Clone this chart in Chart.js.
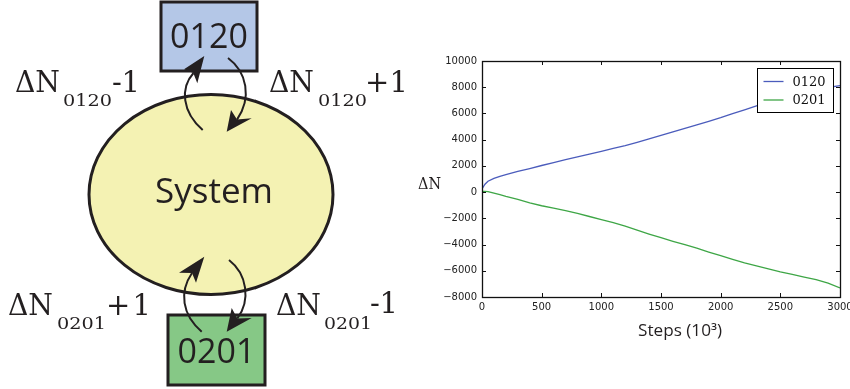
<!DOCTYPE html>
<html>
<head>
<meta charset="utf-8">
<script src="https://cdn.jsdelivr.net/npm/chart.js@4.4.1/dist/chart.umd.min.js"></script>
<style>
html, body { margin: 0; padding: 0; background: #fff; width: 850px; height: 389px; overflow: hidden; }
#plot { position: absolute; left: 420px; top: 50px; width: 440px; height: 290px; }
#diagram { position: absolute; left: 0; top: 0; pointer-events: none; }
.serif { font-family: "DejaVu Serif", serif; fill: #231f20; }
.sans { font-family: "Open Sans", sans-serif; fill: #231f20; }
</style>
</head>
<body>
<div id="plot"><canvas id="chartcanvas"></canvas></div>

<svg id="diagram" width="850" height="389">
	<!-- boxes and system -->
	<rect x="161" y="2" width="96" height="69" fill="#b4c7e7" stroke="#231f20" stroke-width="3"/>
	<text class="sans" x="209" y="48" font-size="34" text-anchor="middle">0120</text>
	<ellipse cx="211" cy="194.5" rx="122" ry="100" fill="#f4f2b3" stroke="#231f20" stroke-width="3"/>
	<text class="sans" x="214" y="203" font-size="35" text-anchor="middle">System</text>
	<rect x="168" y="315" width="97" height="70" fill="#86c886" stroke="#231f20" stroke-width="3"/>
	<text class="sans" x="216.5" y="363" font-size="34" text-anchor="middle">0201</text>

	<!-- exchange arrows -->
	<g fill="none" stroke="#231f20" stroke-width="2">
		<path d="M202.7,130 C182,112 180,88 193.5,73"/>
		<path d="M228,58 C247,72 252,98 237,119.6"/>
		<path d="M201.7,331.7 C182,315 179,292 192,273"/>
		<path d="M229,260 C247,274 251,300 237.3,318.5"/>
	</g>
	<g fill="#231f20">
		<polygon points="204.3,56 184,69.3 193.3,73 197.3,83.3"/>
		<polygon points="226.7,131.7 231,110 237,119.6 251.7,118.3"/>
		<polygon points="204.3,256.7 179,272.7 192,273 196,282.7"/>
		<polygon points="226.7,331.7 231.7,308 237.3,318.5 251.7,318"/>
	</g>

	<!-- labels -->
	<text class="serif" x="15" y="92" font-size="29" textLength="45" lengthAdjust="spacingAndGlyphs">ΔN</text>
	<text class="serif" x="63" y="106" font-size="16" textLength="49" lengthAdjust="spacingAndGlyphs">0120</text>
	<text class="serif" x="112" y="92" font-size="29" textLength="28">-1</text>

	<text class="serif" x="269" y="92" font-size="29" textLength="45" lengthAdjust="spacingAndGlyphs">ΔN</text>
	<text class="serif" x="318" y="106" font-size="16" textLength="49" lengthAdjust="spacingAndGlyphs">0120</text>
	<text class="serif" x="365" y="92" font-size="29" textLength="43">+1</text>

	<text class="serif" x="8" y="315" font-size="29" textLength="45" lengthAdjust="spacingAndGlyphs">ΔN</text>
	<text class="serif" x="57" y="329" font-size="16" textLength="49" lengthAdjust="spacingAndGlyphs">0201</text>
	<text class="serif" x="106" y="315" font-size="29" textLength="45">+1</text>

	<text class="serif" x="276" y="315" font-size="29" textLength="45" lengthAdjust="spacingAndGlyphs">ΔN</text>
	<text class="serif" x="324" y="329" font-size="16" textLength="48" lengthAdjust="spacingAndGlyphs">0201</text>
	<text class="serif" x="370" y="313" font-size="29" textLength="28">-1</text>

	<!-- plot axis labels -->
	<text class="serif" x="418" y="189" font-size="16" textLength="23" lengthAdjust="spacingAndGlyphs">ΔN</text>
	<text class="sans" x="638" y="336" font-size="16" textLength="84" lengthAdjust="spacingAndGlyphs">Steps (10³)</text>
</svg>

<script>
"use strict";

// steps in units of 10^3
var steps = [0, 25, 50, 100, 150, 200, 300, 400, 500, 600, 700, 800, 900, 1000,
	1100, 1200, 1300, 1400, 1500, 1600, 1700, 1800, 1900, 2000,
	2100, 2200, 2300, 2400, 2500, 2600, 2700, 2800, 2900, 3000];

// ΔN for each species
var n0120 = [250, 600, 830, 1050, 1200, 1330, 1580, 1800, 2030, 2250, 2470, 2690, 2900, 3110,
	3330, 3550, 3800, 4060, 4330, 4600, 4870, 5130, 5400, 5680,
	5990, 6280, 6570, 6850, 7100, 7350, 7580, 7800, 7980, 8130];
var n0201 = [60, 60, 30, -80, -200, -330, -560, -820, -1040, -1230, -1420, -1630, -1860, -2100,
	-2330, -2600, -2900, -3200, -3480, -3750, -4000, -4280, -4570, -4850,
	-5130, -5400, -5620, -5850, -6080, -6280, -6480, -6680, -6950, -7300];

var seriesNames = ["0120", "0201"];
var seriesColors = ["#4b5cbc", "#3ea646"];

function toPoints(ys) {
	return steps.map(function(s, i) { return { x: s, y: ys[i] }; });
}

// box frame, inward ticks on every side and the boxed legend
var frameTicks = {
	id: "frameTicks",
	afterDatasetsDraw: function(chart) {
		var ctx = chart.ctx;
		var a = chart.chartArea;
		var xs = chart.scales.x, ys = chart.scales.y;
		ctx.save();
		ctx.strokeStyle = "#111";
		ctx.lineWidth = 1;
		ctx.beginPath();
		xs.ticks.forEach(function(t) {
			var px = Math.round(xs.getPixelForValue(t.value)) + 0.5;
			ctx.moveTo(px, a.bottom); ctx.lineTo(px, a.bottom - 4);
			ctx.moveTo(px, a.top); ctx.lineTo(px, a.top + 4);
		});
		ys.ticks.forEach(function(t) {
			var py = Math.round(ys.getPixelForValue(t.value)) + 0.5;
			ctx.moveTo(a.left, py); ctx.lineTo(a.left + 4, py);
			ctx.moveTo(a.right, py); ctx.lineTo(a.right - 4, py);
		});
		ctx.stroke();
		ctx.lineWidth = 1.3;
		ctx.strokeRect(Math.round(a.left) + 0.5, Math.round(a.top) + 0.5,
			Math.round(a.right - a.left), Math.round(a.bottom - a.top));

		// legend
		var bw = 76, bh = 44;
		var bx = Math.round(a.right - 7 - bw) + 0.5, by = Math.round(a.top + 7) + 0.5;
		ctx.fillStyle = "#fff";
		ctx.fillRect(bx, by, bw, bh);
		ctx.lineWidth = 1;
		ctx.strokeStyle = "#000";
		ctx.strokeRect(bx, by, bw, bh);
		ctx.font = "13px 'DejaVu Serif'";
		ctx.textBaseline = "middle";
		chart.data.datasets.forEach(function(ds, i) {
			var ry = by + 13 + i * 18.5;
			ctx.strokeStyle = ds.borderColor;
			ctx.lineWidth = 1.3;
			ctx.beginPath();
			ctx.moveTo(bx + 6, ry); ctx.lineTo(bx + 26, ry);
			ctx.stroke();
			ctx.fillStyle = "#111";
			ctx.fillText(ds.label, bx + 35, ry + 1);
		});
		ctx.restore();
	}
};

var tickFont = { family: "'DejaVu Sans'", size: 10 };

var chart = new Chart(document.getElementById("chartcanvas"), {
	type: "line",
	data: {
		datasets: [
			{
				label: seriesNames[0],
				data: toPoints(n0120),
				borderColor: seriesColors[0],
				borderWidth: 1.3,
				pointRadius: 0,
				tension: 0,
				fill: false
			},
			{
				label: seriesNames[1],
				data: toPoints(n0201),
				borderColor: seriesColors[1],
				borderWidth: 1.3,
				pointRadius: 0,
				tension: 0,
				fill: false
			}
		]
	},
	options: {
		responsive: true,
		maintainAspectRatio: false,
		animation: false,
		layout: { padding: { top: 8, right: 20, left: 0, bottom: 0 } },
		plugins: {
			legend: { display: false },
			tooltip: { enabled: false }
		},
		scales: {
			x: {
				type: "linear",
				min: 0,
				max: 3000,
				grid: { display: false, drawTicks: false },
				border: { display: false },
				ticks: {
					stepSize: 500,
					padding: 4,
					color: "#222",
					font: tickFont,
					maxRotation: 0,
					callback: function(v) { return String(v); }
				},
				afterFit: function(scale) { scale.height = 43; }
			},
			y: {
				min: -8000,
				max: 10000,
				grid: { display: false, drawTicks: false },
				border: { display: false },
				ticks: {
					stepSize: 2000,
					padding: 5,
					color: "#222",
					font: tickFont,
					callback: function(v) { return String(v).replace("-", "\u2212"); }
				},
				afterFit: function(scale) { scale.width = 62; }
			}
		}
	},
	plugins: [frameTicks]
});
</script>
</body>
</html>
